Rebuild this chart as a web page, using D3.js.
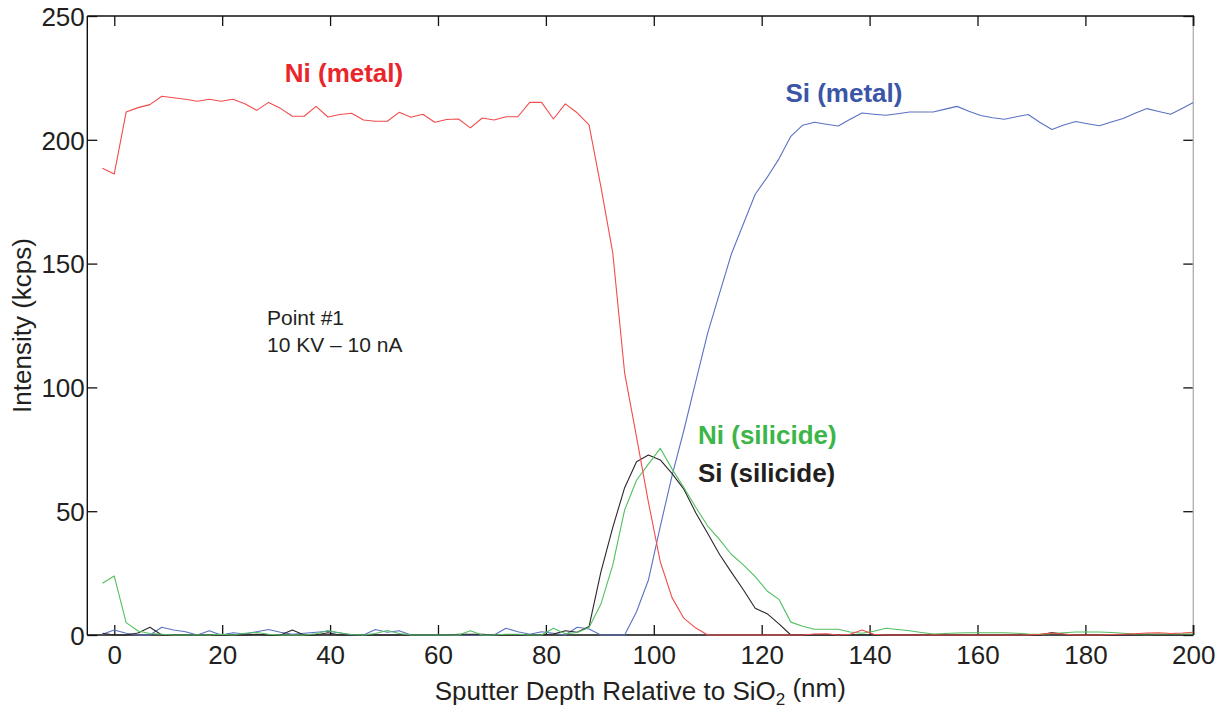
<!DOCTYPE html>
<html>
<head>
<meta charset="utf-8">
<script src="https://cdn.jsdelivr.net/npm/d3@7"></script>
<style>
  html, body { margin: 0; padding: 0; background: #ffffff; }
  svg { display: block; }
</style>
</head>
<body>
<svg id="chart" width="1226" height="710"></svg>
<script>
// ---------------- DATA ----------------
const depth = [-2.2,0,2.2,4.4,6.6,8.8,11,13.2,15.4,17.6,19.8,22,24.2,26.4,28.6,30.8,33,35.2,37.4,39.6,41.8,44,46.2,48.4,50.6,52.8,55,57.2,59.4,61.6,63.8,66,68.2,70.4,72.6,74.8,77,79.2,81.4,83.6,85.8,88,90.2,92.4,94.6,96.8,99,101.2,103.4,105.6,107.8,110,112.2,114.4,116.6,118.8,121,123.2,125.4,127.6,129.8,132,134.2,136.4,138.6,140.8,143,145.2,147.4,149.6,151.8,154,156.2,158.4,160.6,162.8,165,167.2,169.4,171.6,173.8,176,178.2,180.4,182.6,184.8,187,189.2,191.4,193.6,195.8,198,200];

const niMetal = [188.5,186.2,211.2,213,214.2,217.6,217.0,216.4,215.6,216.4,215.6,216.4,214.6,211.9,215.1,212.7,209.5,209.5,213.5,209.2,210.2,210.7,208.0,207.5,207.5,211.1,209.1,210.3,207.1,208.2,208.4,204.8,208.8,208.0,209.3,209.3,215.1,215.1,208.4,214.5,210.9,206.0,181,154.3,105.8,80,53.7,29.6,15,6.7,2.8,0,0,0,0,0,0,0,0,0,0.4,0.5,0,0.3,2.0,0.3,0,0,0,0,0,0,0,0,0,0,0,0,0,0.3,0.8,0.4,0,0,0,0.2,0.3,0.5,0.8,0.9,0.6,0.8,1.1];

const siMetal = [0.3,2.0,0.7,0,0,3.1,2.0,1.3,0,1.7,0,0.9,0.4,1.3,2.2,1.1,0.3,0.7,1.1,1.5,0.9,0,0,2.2,1.1,1.7,0,0,0,0,0,0,0,0,2.7,1.3,0.3,1.3,0.7,0,3.1,2.4,0,0,0,9.4,22.2,43.8,64.5,82.9,102.5,122,138.1,154,166,178,184.8,192.3,201.4,205.9,207.1,206.3,205.6,208.3,210.8,210.3,209.9,210.5,211.2,211.2,211.2,212.4,213.5,211.5,209.8,208.9,208.3,209.3,210.2,207.0,204.2,206,207.4,206.5,205.7,207.2,208.6,210.7,212.6,211.4,210.3,212.7,215.1];

const niSilicide = [20.9,23.8,5.0,1.6,0.6,0.3,0,0,0,0,0.3,0,0.7,1.0,0.3,0,0,0,0.5,1.8,0.8,0.2,0,0.6,1.8,0.6,0,0,0,0,0,1.7,0,0,0.3,0.3,0,0,2.7,0.5,1.0,3.0,12.5,28.3,50.5,62.5,69,75.4,67,59.5,51.5,44,38.5,32.5,28.3,23.6,17.8,14.4,5.2,3.5,2.3,2.3,2.3,1.2,0.7,1.5,2.7,2.2,1.7,1.0,0.4,0.6,0.8,0.9,0.9,0.9,0.9,0.7,0.4,0.3,0.6,0.9,1.2,1.2,1.2,1.0,0.7,0.4,0.4,0.4,0.4,0.4,0.4];

const siSilicide = [0.7,0,0,0.8,3.1,0,0,0,0,0,0,0,0,0.3,0,0,2.0,0,0,0.9,0,0,0,0,0,0,0,0,0,0,0.3,0.3,0.3,0,0,0,0,0,0.4,1.7,1.1,3.4,25.5,43.5,59.5,70,72.7,70.7,65.2,58.8,49.3,41,32.5,25.3,18.3,10.8,8.6,4.5,0,0,0,0,0,0,0,0,0,0,0,0,0,0,0,0,0,0,0,0,0,0,1.0,0.3,0,0,0,0,0,0,0.3,0,0,0,0];

const xTicks = [0,20,40,60,80,100,120,140,160,180,200];
const yTicks = [0,50,100,150,200,250];

const seriesNames = ["Si (metal)","Si (silicide)","Ni (silicide)","Ni (metal)"];
const seriesValues = [siMetal, siSilicide, niSilicide, niMetal];
const lineColors = ["#5a72c2","#2b2728","#52c060","#f24c4c"];

// annotations in data coordinates (depth, intensity at baseline)
const labelTexts = ["Ni (metal)","Si (metal)","Ni (silicide)","Si (silicide)"];
const labelColors = ["#e8262c","#3b56a6","#3db649","#231f20"];
const labelX = [31.6,124.4,108.2,108.2];
const labelY = [223.3,215.4,77.0,61.9];

const noteLines = ["Point #1","10 KV \u2013 10 nA"];
const noteX = 28.3;
const noteY = [125.2,114.4];

// ---------------- CHART ----------------
const L = 87.3, R = 1193.3, T = 16, B = 635;
const FONT = "'Liberation Sans', Arial, Helvetica, sans-serif";
const TXT = "#231f20";
const tickColor = "#111";

const svg = d3.select("#chart");
const x = d3.scaleLinear().domain([-5,200]).range([L,R]);
const y = d3.scaleLinear().domain([0,250]).range([B,T]);

svg.append("defs").append("clipPath").attr("id","plotclip")
  .append("rect").attr("x",L).attr("y",T-2).attr("width",R-L).attr("height",B-T+4);

// axes
const gx = svg.append("g").attr("transform",`translate(0,${B})`)
  .call(d3.axisBottom(x).tickValues(xTicks).tickSizeInner(-10).tickSizeOuter(0).tickPadding(10.5).tickFormat(d3.format("d")));
const gxt = svg.append("g").attr("transform",`translate(0,${T})`)
  .call(d3.axisTop(x).tickValues(xTicks).tickSizeInner(-10).tickSizeOuter(0).tickFormat(""));
const gy = svg.append("g").attr("transform",`translate(${L},0)`)
  .call(d3.axisLeft(y).tickValues(yTicks).tickSizeInner(-10).tickSizeOuter(0).tickPadding(2.5).tickFormat(d3.format("d")));
const gyr = svg.append("g").attr("transform",`translate(${R},0)`)
  .call(d3.axisRight(y).tickValues(yTicks).tickSizeInner(-10).tickSizeOuter(0).tickFormat(""));

[gx,gxt,gy,gyr].forEach(g=>{
  g.select(".domain").remove();
  g.selectAll(".tick line").attr("stroke",tickColor).attr("stroke-width",1.3);
  g.selectAll(".tick text").attr("fill",TXT).style("font-family",FONT).style("font-size","26px");
});
gy.selectAll(".tick text").attr("dy","0.36em");

// frame
svg.append("line").attr("x1",R).attr("x2",R).attr("y1",T).attr("y2",B)
  .attr("stroke","#b3b3b3").attr("stroke-width",1.4);
svg.append("line").attr("x1",R).attr("x2",R).attr("y1",T).attr("y2",T+10).attr("stroke",tickColor).attr("stroke-width",1.3);
svg.append("line").attr("x1",R).attr("x2",R).attr("y1",B-10).attr("y2",B).attr("stroke",tickColor).attr("stroke-width",1.3);
svg.append("line").attr("x1",L).attr("x2",R+0.7).attr("y1",T).attr("y2",T).attr("stroke",tickColor).attr("stroke-width",1.4);
svg.append("line").attr("x1",L).attr("x2",L).attr("y1",T).attr("y2",B).attr("stroke",tickColor).attr("stroke-width",1.4);
svg.append("line").attr("x1",L).attr("x2",R).attr("y1",B).attr("y2",B).attr("stroke",tickColor).attr("stroke-width",1.4);

// series lines (drawn over the frame, as in the reference)
const line = d3.line().x((d,i)=>x(depth[i])).y(d=>y(d));
const gLines = svg.append("g").attr("clip-path","url(#plotclip)");
seriesValues.forEach((vals,k)=>{
  gLines.append("path")
    .datum(vals)
    .attr("d", line)
    .attr("fill","none")
    .attr("stroke", lineColors[k])
    .attr("stroke-width",1.1)
    .attr("stroke-linejoin","round");
});

// axis titles
const xt = svg.append("text")
  .attr("x",(L+R)/2).attr("y",700)
  .attr("text-anchor","middle")
  .attr("fill",TXT).style("font-family",FONT).style("font-size","26px");
xt.append("tspan").text("Sputter Depth Relative to SiO");
xt.append("tspan").attr("dy","0.3em").style("font-size","17px").text("2");
xt.append("tspan").attr("dy","-0.3em").text(" (nm)");

svg.append("text")
  .attr("transform",`translate(31,${(T+B)/2}) rotate(-90)`)
  .attr("text-anchor","middle")
  .attr("fill",TXT).style("font-family",FONT).style("font-size","26px")
  .text("Intensity (kcps)");

// series labels
labelTexts.forEach((t,k)=>{
  svg.append("text")
    .attr("x",x(labelX[k])).attr("y",y(labelY[k]))
    .attr("fill",labelColors[k])
    .style("font-family",FONT).style("font-size","26px").style("font-weight","bold")
    .text(t);
});

// note
noteLines.forEach((t,k)=>{
  svg.append("text")
    .attr("x",x(noteX)).attr("y",y(noteY[k]))
    .attr("fill",TXT).style("font-family",FONT).style("font-size","21px")
    .text(t);
});
</script>
</body>
</html>
